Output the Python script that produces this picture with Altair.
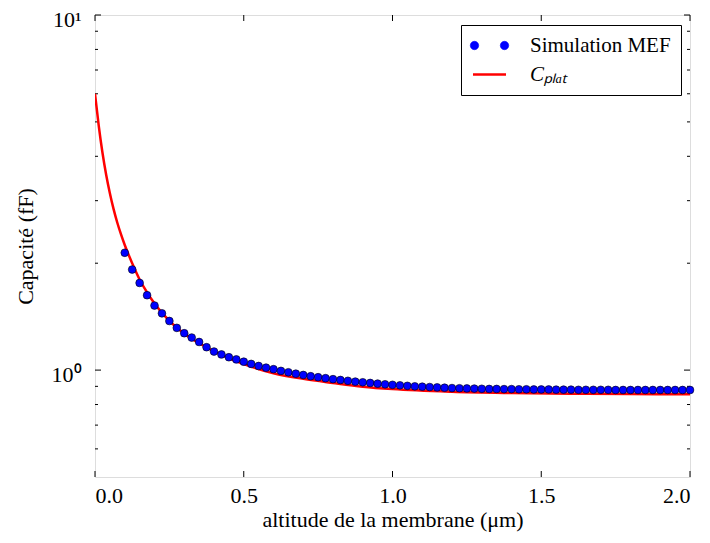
import altair as alt
import pandas as pd

# ---- data ----
sim_x = [round(0.1 + 0.025 * i, 4) for i in range(77)]
sim_y = [2.14, 1.92, 1.76, 1.625, 1.52, 1.445, 1.375, 1.315, 1.27, 1.235,
         1.20, 1.16, 1.128, 1.107, 1.087, 1.072, 1.056, 1.041, 1.027, 1.016,
         1.006, 0.995, 0.986, 0.977, 0.969, 0.961, 0.955, 0.949, 0.943, 0.938,
         0.933, 0.928, 0.924, 0.920, 0.916, 0.912, 0.909, 0.906, 0.903, 0.900,
         0.898, 0.896, 0.894, 0.892, 0.890, 0.889, 0.888, 0.887, 0.886, 0.885,
         0.885, 0.884, 0.884, 0.883, 0.883, 0.882, 0.882, 0.882, 0.881, 0.881,
         0.881, 0.880, 0.880, 0.880, 0.880, 0.880, 0.879, 0.879, 0.879, 0.879,
         0.879, 0.879, 0.879, 0.879, 0.879, 0.879, 0.879]

cplat_x = [0, 0.0125, 0.025, 0.0375, 0.05, 0.0625, 0.075, 0.0875, 0.1, 0.125,
           0.15, 0.175, 0.2, 0.25, 0.3, 0.35, 0.4, 0.45, 0.5, 0.6, 0.7, 0.8,
           0.9, 1.0, 1.2, 1.4, 1.6, 1.8, 2.0]
cplat_y = [6.0, 4.88, 4.10, 3.55, 3.15, 2.84, 2.60, 2.41, 2.25, 2.0,
           1.80, 1.655, 1.54, 1.375, 1.265, 1.19, 1.13, 1.08, 1.04, 0.98,
           0.945, 0.92, 0.898, 0.884, 0.869, 0.862, 0.858, 0.856, 0.855]

x_ticks = [0.0, 0.5, 1.0, 1.5, 2.0]
y_major = [1, 10]
y_minor = [0.6, 0.7, 0.8, 0.9, 2, 3, 4, 5, 6, 7, 8, 9]

SIM = "Simulation MEF"
CPL = "Cₚₗₐₜ"

W, H = 595, 462
FONT = "Liberation Serif, Times New Roman, Times, serif"

sim_df = pd.DataFrame({"x": sim_x, "y": sim_y, "series": SIM})
cpl_df = pd.DataFrame({"x": cplat_x, "y": cplat_y, "series": CPL})
xt_df = pd.DataFrame({"x": x_ticks})
ymaj_df = pd.DataFrame({"y": y_major})
ymin_df = pd.DataFrame({"y": y_minor})

xscale = alt.Scale(domain=[0, 2], nice=False, zero=False)
yscale = alt.Scale(type="log", domain=[0.5, 10], nice=False)

two_dots = ("M-0.655,0A0.255,0.255,0,1,1,-1.165,0A0.255,0.255,0,1,1,-0.655,0Z"
            "M1.165,0A0.255,0.255,0,1,1,0.655,0A0.255,0.255,0,1,1,1.165,0Z")

color = alt.Color(
    "series:N",
    scale=alt.Scale(domain=[SIM, CPL], range=["#0000ff", "#ff0000"]),
    legend=alt.Legend(
        orient="none", legendX=366, legendY=10, title=None,
        fillColor="white", strokeColor="black", padding=10, cornerRadius=0,
        labelFont=FONT, labelFontSize=21, labelColor="black",
        symbolOffset=8, labelOffset=30, rowPadding=7,
        symbolType=alt.ExprRef(f"datum.value == '{SIM}' ? '{two_dots}' : 'stroke'"),
        symbolSize=1089,
        symbolStrokeColor=alt.ExprRef(f"datum.value == '{SIM}' ? 'black' : '#ff0000'"),
        symbolFillColor=alt.ExprRef(f"datum.value == '{SIM}' ? '#0000ff' : 'transparent'"),
        symbolStrokeWidth=alt.ExprRef(f"datum.value == '{SIM}' ? 0.6 : 2.5"),
        labelFontStyle=alt.ExprRef(f"datum.value == '{SIM}' ? 'normal' : 'italic'"),
    ),
)

xaxis = alt.Axis(values=x_ticks, format=".1f", ticks=False, domain=False, grid=False,
                 labelFont=FONT, labelFontSize=22, labelColor="black", labelPadding=8,
                 title="altitude de la membrane (μm)", titleFont=FONT, titleFontSize=22,
                 titleFontWeight="normal", titleColor="black", titlePadding=3)
yaxis = alt.Axis(values=y_major, ticks=False, domain=False, grid=False,
                 labelExpr="datum.value == 1 ? '10⁰' : '10¹'", labelOffset=4,
                 labelFont=FONT, labelFontSize=22, labelColor="black", labelPadding=14,
                 title="Capacité (fF)", titleFont=FONT, titleFontSize=22,
                 titleFontWeight="normal", titleColor="black", titlePadding=14)

line = alt.Chart(cpl_df).mark_line(color="#ff0000", strokeWidth=2.5, interpolate="monotone", clip=True).encode(
    x=alt.X("x:Q", scale=xscale, axis=xaxis),
    y=alt.Y("y:Q", scale=yscale, axis=yaxis),
    color=color,
)

pts = alt.Chart(sim_df).mark_circle(size=60, opacity=1, stroke="black", strokeWidth=0.6).encode(
    x=alt.X("x:Q", scale=xscale),
    y=alt.Y("y:Q", scale=yscale),
    color=color,
)

def yticks(df, length):
    left = alt.Chart(df).mark_rule(color="black", strokeWidth=1).encode(
        y=alt.Y("y:Q", scale=yscale), x=alt.value(0), x2=alt.value(length))
    right = alt.Chart(df).mark_rule(color="black", strokeWidth=1).encode(
        y=alt.Y("y:Q", scale=yscale), x=alt.value(W), x2=alt.value(W - length))
    return [left, right]

xt_bottom = alt.Chart(xt_df).mark_rule(color="black", strokeWidth=1).encode(
    x=alt.X("x:Q", scale=xscale), y=alt.value(H), y2=alt.value(H - 6))
xt_top = alt.Chart(xt_df).mark_rule(color="black", strokeWidth=1).encode(
    x=alt.X("x:Q", scale=xscale), y=alt.value(0), y2=alt.value(6))

chart = alt.layer(
    *yticks(ymaj_df, 6), *yticks(ymin_df, 3), xt_bottom, xt_top, line, pts
).properties(
    width=W, height=H,
    autosize=alt.AutoSizeParams(type="none"),
    padding={"left": 87, "top": 7, "right": 12, "bottom": 58},
).configure_view(
    stroke="black", strokeWidth=1.2, fill="white"
).configure(background="white")

chart.save("out.html", embed_options={"renderer": "svg", "actions": False})
